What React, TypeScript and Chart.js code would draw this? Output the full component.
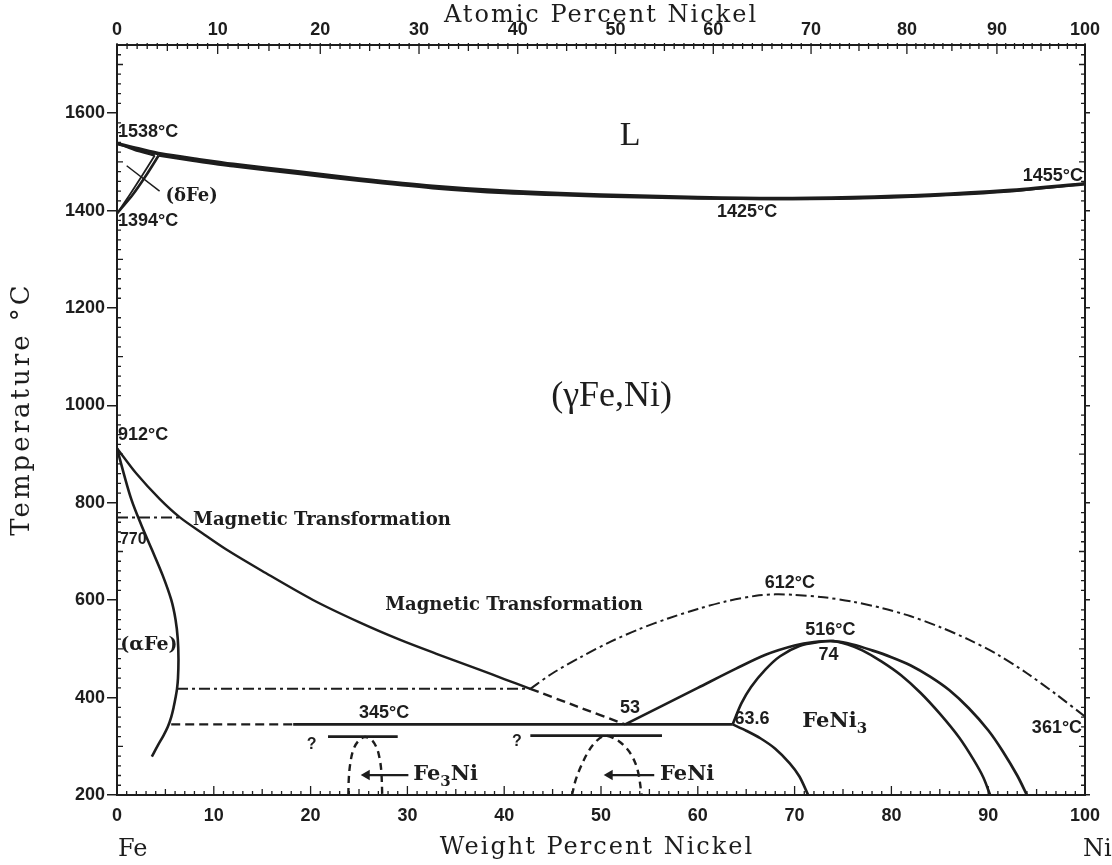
import { useEffect, useRef } from 'react';
import { Chart, registerables } from 'chart.js';

Chart.register(...registerables);

type Pt = [number, number];

// ---- axis ticks ----
const weightTicks = [0, 10, 20, 30, 40, 50, 60, 70, 80, 90, 100];
const atomicTickLabels = ['0', '10', '20', '30', '40', '50', '60', '70', '80', '90', '100'];
const atomicTickAtWeight = [0, 10.4, 21.0, 31.2, 41.4, 51.5, 61.6, 71.7, 81.6, 90.9, 100];
const temperatureTicks = [200, 400, 600, 800, 1000, 1200, 1400, 1600];

// ---- phase boundaries (wt% Ni, °C) ----
const liquidus: Pt[] = [[0, 1538], [2.2, 1527], [4.6, 1516], [8, 1506], [12, 1495], [18.9, 1479], [25, 1465], [32.6, 1450], [40, 1440], [50, 1432], [60, 1427], [68, 1425], [76, 1427], [84, 1432], [92, 1441], [100, 1455]];
const solidusDelta: Pt[] = [[0, 1538], [1.8, 1525], [3.9, 1513]];
const solidusGamma: Pt[] = [[4.3, 1513], [8, 1502], [12, 1491], [18.9, 1475], [25, 1461], [32.6, 1446], [40, 1436], [50, 1429], [60, 1425], [68, 1424], [76, 1425], [84, 1430], [92, 1439], [100, 1455]];
const deltaBoundary: Pt[] = [[0, 1394], [1.3, 1432], [2.6, 1472], [3.9, 1513]];
const deltaGammaBoundary: Pt[] = [[0, 1394], [1.6, 1432], [3.0, 1472], [4.3, 1513]];
const deltaLeader: Pt[] = [[1.0, 1492], [4.4, 1440]];
const gammaAlphaBoundary: Pt[] = [[0, 912], [2, 860], [4.4, 808], [6.5, 770], [9, 735], [11.3, 704], [15, 660], [20.2, 601], [25, 555], [29.2, 519], [33, 490], [37.5, 457], [40, 438], [42.7, 418]];
const gammaAlphaDashed: Pt[] = [[42.7, 418], [47.5, 382], [52.5, 345]];
const alphaBoundary: Pt[] = [[0, 912], [0.7, 860], [1.5, 806], [2.5, 755], [3.6, 704], [4.7, 652], [5.6, 601], [6.05, 560], [6.28, 520], [6.35, 480], [6.3, 440], [6.2, 418], [6.05, 400], [5.85, 380], [5.6, 360], [5.25, 340], [4.8, 322], [4.25, 303], [3.6, 279]];
const curieAlpha: Pt[] = [[0, 770], [6.5, 770]];
const magneticHorizontal: Pt[] = [[6.2, 418], [42.7, 418]];
const curieGamma: Pt[] = [[42.7, 418], [45, 450], [48, 484], [51, 515], [54, 541], [57, 563], [60, 582], [63, 598], [66, 609], [68, 612], [70, 611], [73, 606], [76, 597], [79, 584], [82, 567], [85, 545], [88, 519], [91, 488], [94, 450], [97, 407], [100, 361]];
const eutectoidDashed: Pt[] = [[5.6, 345], [18.2, 345]];
const eutectoid: Pt[] = [[18.2, 345], [63.6, 345]];
const orderBoundary: Pt[] = [[52.5, 345], [56, 380], [60, 420], [64, 460], [67, 488], [70, 507], [72, 514], [74, 516], [76, 509], [78, 497], [80, 483], [82, 466], [84, 443], [86, 415], [88, 378], [90, 333], [91.5, 290], [93, 240], [94, 200]];
const feni3Boundary: Pt[] = [[63.6, 345], [64.5, 388], [65.5, 422], [67, 458], [68.5, 485], [70.5, 506], [72.5, 514], [74, 516], [75.5, 509], [77, 497], [79, 474], [81, 446], [83, 410], [85, 367], [87, 318], [88.5, 272], [89.5, 236], [90.2, 200]];
const feni3LowerLeft: Pt[] = [[63.6, 345], [65, 332], [66.5, 316], [68, 295], [69.5, 265], [70.5, 238], [71.4, 200]];
const fe3niQuestion: Pt[] = [[21.8, 320], [29, 320]];
const feniQuestion: Pt[] = [[42.7, 322], [56.3, 322]];
const fe3niDome: Pt[] = [[23.9, 200], [23.95, 235], [24.1, 265], [24.4, 292], [24.9, 310], [25.6, 319], [26.3, 313], [26.8, 298], [27.1, 278], [27.3, 250], [27.4, 200]];
const feniDome: Pt[] = [[47, 200], [47.4, 232], [48, 262], [48.6, 286], [49.3, 306], [50.3, 321], [51.4, 316], [52.4, 301], [53.2, 280], [53.8, 250], [54.2, 200]];
const fe3niArrow: Pt[] = [[25.8, 241], [30.1, 241]];
const feniArrow: Pt[] = [[50.9, 241], [55.5, 241]];

// ---- text labels (wt% Ni, °C) ----
const labelTexts = ['1538°C', '1394°C', '(δFe)', 'L', '1455°C', '1425°C', '(γFe,Ni)', '912°C', 'Magnetic Transformation', '770', 'Magnetic Transformation', '(αFe)', '612°C', '516°C', '74', '53', '63.6', 'FeNi_3', '361°C', '345°C', '?', '?', 'Fe_3Ni', 'FeNi'];
const labelX = [0.1, 0.1, 7.7, 53, 99.8, 65.1, 51.1, 0.1, 7.85, 0.3, 27.7, 3.3, 69.5, 73.7, 73.5, 53, 63.8, 70.8, 99.7, 27.6, 20.1, 41.3, 30.6, 56.1];
const labelY = [1561, 1378, 1429, 1553, 1470, 1397, 1018, 940, 765, 724, 589, 508, 636, 539, 488, 379, 356, 350, 338, 369, 303, 309, 241, 241];

const xTitle = 'Weight Percent Nickel';
const xTopTitle = 'Atomic Percent Nickel';
const yTitle = 'Temperature °C';

const INK = '#1d1d1d';
const SANS = '"Liberation Sans", Arial, sans-serif';
const SERIF = '"DejaVu Serif", serif';
const TIMES = '"Liberation Serif", "Times New Roman", serif';

const labelStyles: { align: CanvasTextAlign; font: string; size: number }[] = [
  { align: 'left', font: `bold 18px ${SANS}`, size: 18 },
  { align: 'left', font: `bold 18px ${SANS}`, size: 18 },
  { align: 'center', font: `bold 18px ${SERIF}`, size: 18 },
  { align: 'center', font: `34px ${TIMES}`, size: 34 },
  { align: 'right', font: `bold 18px ${SANS}`, size: 18 },
  { align: 'center', font: `bold 18px ${SANS}`, size: 18 },
  { align: 'center', font: `36px ${TIMES}`, size: 36 },
  { align: 'left', font: `bold 18px ${SANS}`, size: 18 },
  { align: 'left', font: `bold 18px ${SERIF}`, size: 18 },
  { align: 'left', font: `bold 16px ${SANS}`, size: 16 },
  { align: 'left', font: `bold 18px ${SERIF}`, size: 18 },
  { align: 'center', font: `bold 19px ${SERIF}`, size: 19 },
  { align: 'center', font: `bold 18px ${SANS}`, size: 18 },
  { align: 'center', font: `bold 18px ${SANS}`, size: 18 },
  { align: 'center', font: `bold 18px ${SANS}`, size: 18 },
  { align: 'center', font: `bold 18px ${SANS}`, size: 18 },
  { align: 'left', font: `bold 18px ${SANS}`, size: 18 },
  { align: 'left', font: `bold 21px ${SERIF}`, size: 21 },
  { align: 'right', font: `bold 18px ${SANS}`, size: 18 },
  { align: 'center', font: `bold 18px ${SANS}`, size: 18 },
  { align: 'center', font: `bold 16px ${SANS}`, size: 16 },
  { align: 'center', font: `bold 16px ${SANS}`, size: 16 },
  { align: 'left', font: `bold 21px ${SERIF}`, size: 21 },
  { align: 'left', font: `bold 21px ${SERIF}`, size: 21 },
];

const toXY = (d: Pt[]) => d.map(([x, y]) => ({ x, y }));

function ln(data: Pt[], width: number, dash: number[] = [], tension = 0.3) {
  return {
    data: toXY(data),
    showLine: true,
    borderColor: INK,
    backgroundColor: INK,
    borderWidth: width,
    borderDash: dash,
    pointRadius: 0,
    tension,
    fill: false,
    borderCapStyle: 'butt' as const,
    borderJoinStyle: 'round' as const,
  };
}

function arrow(data: Pt[]) {
  return {
    ...ln(data, 2.2, [], 0),
    pointRadius: (c: any) => (c.dataIndex === 0 ? 6 : 0),
    pointStyle: 'triangle',
    rotation: -90,
    pointBorderWidth: 0,
  };
}

const DASH = [9, 5];
const DASHDOT = [11, 4, 3, 4];
const SHORTDASH = [7, 5];

function drawRich(ctx: CanvasRenderingContext2D, text: string, x: number, y: number, align: CanvasTextAlign, font: string, size: number) {
  const segs: { t: string; sub: boolean }[] = [];
  let i = 0;
  let cur = '';
  while (i < text.length) {
    if (text[i] === '_' && i + 1 < text.length) {
      if (cur) segs.push({ t: cur, sub: false });
      cur = '';
      segs.push({ t: text[i + 1], sub: true });
      i += 2;
    } else {
      cur += text[i];
      i++;
    }
  }
  if (cur) segs.push({ t: cur, sub: false });
  const subSize = Math.round(size * 0.72);
  const subFont = font.replace(`${size}px`, `${subSize}px`);
  let total = 0;
  const widths = segs.map((s) => {
    ctx.font = s.sub ? subFont : font;
    const w = ctx.measureText(s.t).width;
    total += w;
    return w;
  });
  let sx = align === 'left' ? x : align === 'right' ? x - total : x - total / 2;
  ctx.textAlign = 'left';
  ctx.textBaseline = 'middle';
  segs.forEach((s, k) => {
    ctx.font = s.sub ? subFont : font;
    ctx.fillText(s.t, sx, s.sub ? y + size * 0.32 : y);
    sx += widths[k];
  });
}

const backgroundPlugin = {
  id: 'bg',
  beforeDraw(chart: any) {
    const { ctx, width, height } = chart;
    ctx.save();
    ctx.fillStyle = '#ffffff';
    ctx.fillRect(0, 0, width, height);
    ctx.restore();
  },
};

const minorTicksPlugin = {
  id: 'minorTicks',
  afterDraw(chart: any) {
    const { ctx, chartArea, scales } = chart;
    const { left, right, top, bottom } = chartArea;
    ctx.save();
    ctx.strokeStyle = INK;
    ctx.lineWidth = 1.3;
    ctx.beginPath();
    for (let v = 0; v <= 100; v++) {
      const px = scales.x.getPixelForValue(v);
      const len = v % 10 === 0 ? 9 : v % 5 === 0 ? 6 : 4;
      ctx.moveTo(px, bottom);
      ctx.lineTo(px, bottom - len);
    }
    for (let a = 0; a <= 100; a++) {
      const k = Math.min(9, Math.floor(a / 10));
      const f = (a - k * 10) / 10;
      const w = atomicTickAtWeight[k] + f * (atomicTickAtWeight[k + 1] - atomicTickAtWeight[k]);
      const px = scales.xTop.getPixelForValue(w);
      const len = a % 10 === 0 ? 9 : a % 5 === 0 ? 6 : 4;
      ctx.moveTo(px, top - 2);
      ctx.lineTo(px, top + len);
    }
    for (let t = 200; t <= 1740; t += 20) {
      const py = scales.y.getPixelForValue(t);
      const len = t % 200 === 0 ? 0 : t % 100 === 0 ? 6 : 4;
      if (len === 0) continue;
      ctx.moveTo(left, py);
      ctx.lineTo(left + len, py);
      ctx.moveTo(right, py);
      ctx.lineTo(right - len, py);
    }
    ctx.stroke();
    ctx.restore();
  },
};

const labelsPlugin = {
  id: 'labels',
  afterDatasetsDraw(chart: any) {
    const { ctx, scales, chartArea } = chart;
    ctx.save();
    ctx.fillStyle = INK;
    labelTexts.forEach((t, i) => {
      const st = labelStyles[i];
      const px = scales.x.getPixelForValue(labelX[i]);
      const py = scales.y.getPixelForValue(labelY[i]);
      drawRich(ctx, t, px, py, st.align, st.font, st.size);
    });
    // axis titles (letter-spaced like the typeset original)
    const cx = (chartArea.left + chartArea.right) / 2;
    ctx.textBaseline = 'middle';
    ctx.textAlign = 'center';
    ctx.font = `24px ${SERIF}`;
    (ctx as any).letterSpacing = '2px';
    ctx.fillText(xTopTitle, cx, 16);
    ctx.fillText(xTitle, cx - 4, chartArea.bottom + 53);
    ctx.save();
    ctx.translate(22, 409);
    ctx.rotate(-Math.PI / 2);
    (ctx as any).letterSpacing = '3px';
    ctx.font = `26px ${SERIF}`;
    ctx.fillText(yTitle, 0, 0);
    ctx.restore();
    (ctx as any).letterSpacing = '0px';
    ctx.font = `24px ${SERIF}`;
    ctx.textAlign = 'left';
    ctx.fillText('Fe', scales.x.getPixelForValue(0) + 1, chartArea.bottom + 55);
    ctx.fillText('Ni', scales.x.getPixelForValue(100) - 2, chartArea.bottom + 55);
    ctx.restore();
  },
};

export default function App() {
  const ref = useRef<HTMLCanvasElement | null>(null);

  useEffect(() => {
    if (!ref.current) return;
    const tickFont = { family: SANS, size: 18, weight: 'bold' as const };
    const border = { display: true, color: INK, width: 2 };
    const plain = (v: any) => String(v);

    const datasets: any[] = [
      ln(liquidus, 3.5, [], 0.3),
      ln(solidusDelta, 2.5, [], 0.2),
      ln(solidusGamma, 2.5, [], 0.3),
      ln(deltaBoundary, 1.8, [], 0.2),
      ln(deltaGammaBoundary, 2.6, [], 0.2),
      ln(deltaLeader, 1.5, [], 0),
      ln(gammaAlphaBoundary, 2.4, [], 0.3),
      ln(gammaAlphaDashed, 2.4, DASH, 0.2),
      ln(alphaBoundary, 2.6, [], 0.35),
      ln(curieAlpha, 2, DASHDOT, 0),
      ln(magneticHorizontal, 2, DASHDOT, 0),
      ln(curieGamma, 2, DASHDOT, 0.3),
      ln(eutectoidDashed, 2.4, DASH, 0),
      ln(eutectoid, 2.8, [], 0),
      ln(orderBoundary, 2.7, [], 0.3),
      ln(feni3Boundary, 2.6, [], 0.3),
      ln(feni3LowerLeft, 2.6, [], 0.3),
      ln(fe3niQuestion, 2.8, [], 0),
      ln(feniQuestion, 2.8, [], 0),
      ln(fe3niDome, 2.4, SHORTDASH, 0.35),
      ln(feniDome, 2.4, SHORTDASH, 0.35),
      arrow(fe3niArrow),
      arrow(feniArrow),
    ];

    const chart = new Chart(ref.current, {
      type: 'scatter',
      data: { datasets },
      options: {
        animation: false,
        responsive: false,
        maintainAspectRatio: false,
        events: [],
        layout: { padding: 0 },
        plugins: { legend: { display: false }, tooltip: { enabled: false } },
        scales: {
          x: {
            type: 'linear',
            position: 'bottom',
            min: 0,
            max: 100,
            afterBuildTicks: (s: any) => {
              s.ticks = weightTicks.map((v) => ({ value: v }));
            },
            afterFit: (s: any) => {
              s.height = 70;
            },
            ticks: { font: tickFont, color: INK, padding: 10, maxRotation: 0, autoSkip: false, callback: plain },
            grid: { drawOnChartArea: false, drawTicks: false },
            border,
            title: { display: false },
          },
          xTop: {
            type: 'linear',
            position: 'top',
            min: 0,
            max: 100,
            afterBuildTicks: (s: any) => {
              s.ticks = atomicTickAtWeight.map((v) => ({ value: v }));
            },
            afterFit: (s: any) => {
              s.height = 45;
            },
            ticks: {
              font: tickFont,
              color: INK,
              padding: 4,
              maxRotation: 0,
              autoSkip: false,
              callback: (_v: any, i: number) => atomicTickLabels[i],
            },
            grid: { drawOnChartArea: false, drawTicks: false },
            border,
          },
          y: {
            type: 'linear',
            position: 'left',
            min: 200,
            max: 1740,
            afterBuildTicks: (s: any) => {
              s.ticks = temperatureTicks.map((v) => ({ value: v }));
            },
            afterFit: (s: any) => {
              s.width = 117;
            },
            ticks: { font: tickFont, color: INK, padding: 2, autoSkip: false, callback: plain },
            grid: { drawOnChartArea: false, drawTicks: true, tickLength: 10, color: INK, lineWidth: 1.5 },
            border,
          },
          yRight: {
            type: 'linear',
            position: 'right',
            min: 200,
            max: 1740,
            afterBuildTicks: (s: any) => {
              s.ticks = temperatureTicks.map((v) => ({ value: v }));
            },
            afterFit: (s: any) => {
              s.width = 27;
            },
            ticks: { display: false },
            grid: { drawOnChartArea: false, drawTicks: true, tickLength: 5, color: INK, lineWidth: 1.5 },
            border,
          },
        },
      } as any,
      plugins: [backgroundPlugin, minorTicksPlugin, labelsPlugin],
    });
    return () => chart.destroy();
  }, []);

  return (
    <div style={{ position: 'absolute', left: 0, top: 0, width: 1112, height: 865, background: '#fff' }}>
      <canvas ref={ref} width={1112} height={865} style={{ display: 'block', width: 1112, height: 865 }} />
    </div>
  );
}
